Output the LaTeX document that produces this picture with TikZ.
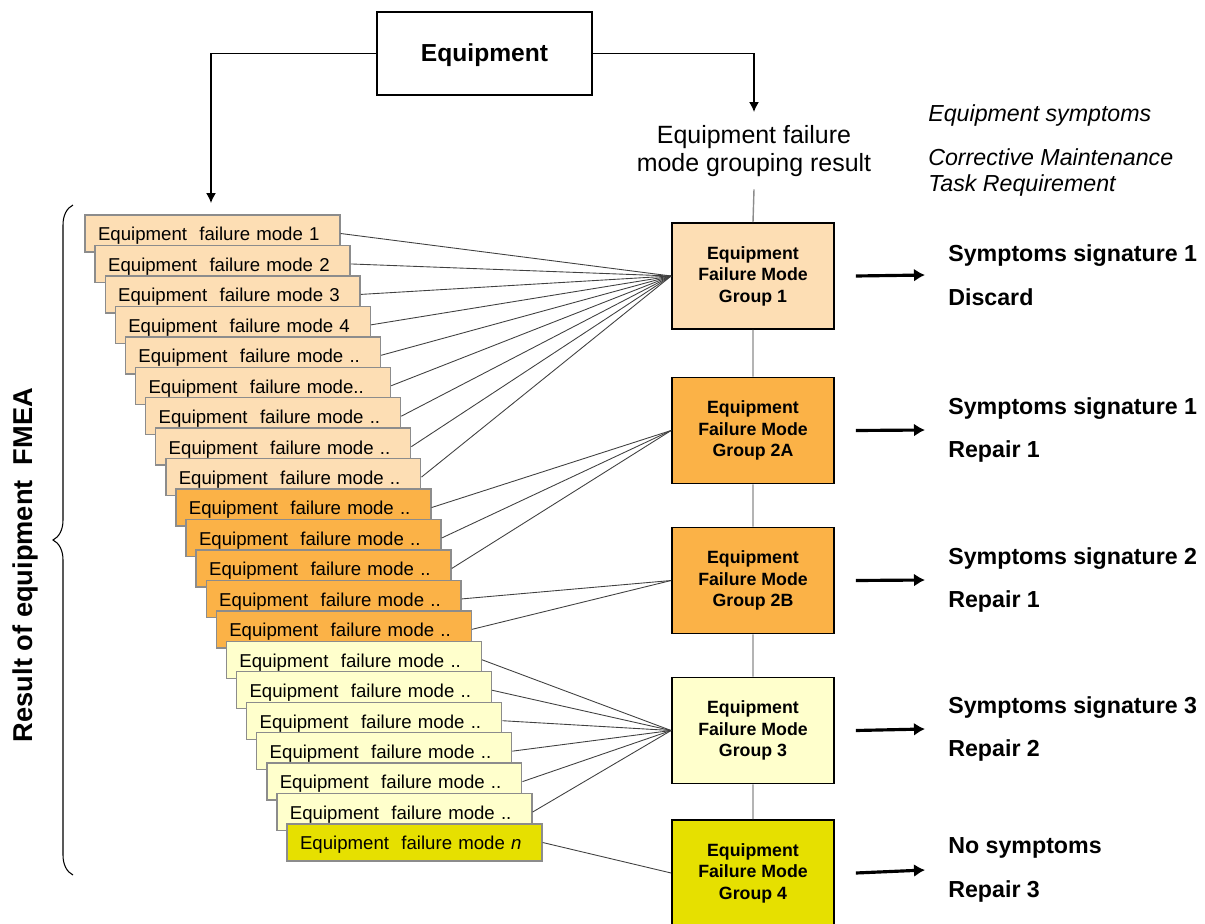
\documentclass[tikz,border=0pt]{standalone}
\usepackage{fontspec}
\setmainfont{Liberation Sans}
\usepackage{tikz}
\usetikzlibrary{arrows.meta,decorations.pathreplacing}

\definecolor{fmA}{RGB}{253,222,180}
\definecolor{fmB}{RGB}{251,178,71}
\definecolor{fmC}{RGB}{255,255,204}
\definecolor{fmD}{RGB}{230,224,0}
\definecolor{boxline}{RGB}{140,140,140}
\definecolor{linkline}{RGB}{64,64,64}

\tikzset{
  fmbox/.style={draw=boxline, line width=0.8pt, minimum height=0.74cm,
    text width=4.58cm, inner xsep=0.26cm, inner ysep=0pt, align=left,
    text height=1.05em, text depth=0.21em,
    font=\fontsize{10.6}{12}\selectfont},
  grpbox/.style={draw, line width=1pt, minimum width=3.24cm, minimum height=2.12cm,
    align=center, font=\fontsize{10.1}{12.2}\selectfont\bfseries},
  link/.style={draw=linkline, line width=0.5pt},
  outlabel/.style={anchor=west, inner sep=0pt, align=left,
    font=\fontsize{13.2}{25}\selectfont\bfseries},
  outarrow/.style={line width=1.8pt, -{Latex[length=0.22cm,width=0.26cm]}}
}

\begin{document}
\begin{tikzpicture}[x=0.02cm, y=-0.02cm]
\useasboundingbox (0,0) rectangle (1205,924);

\node[draw, line width=0.9pt, minimum width=4.3cm, minimum height=1.66cm,
  text height=1.1em, text depth=0.2em,
  font=\fontsize{14}{16}\selectfont\bfseries] (eq) at (484.5,53.5) {Equipment};
\coordinate (lft) at (211,203);
\coordinate (rgt) at (754,112);
\draw[line width=0.8pt, -{Latex[length=0.2cm,width=0.2cm]}] (eq.west) -| (lft);
\draw[line width=0.8pt, -{Latex[length=0.2cm,width=0.2cm]}] (eq.east) -| (rgt);

\node[align=center, inner sep=0pt, font=\fontsize{14.2}{15.9}\selectfont] (res) at (754,151)
  {Equipment failure\\mode grouping result};
\node[anchor=west, inner sep=0pt, font=\fontsize{13.2}{15}\selectfont\itshape] (sym) at (928,115)
  {Equipment symptoms};
\node[anchor=west, inner sep=0pt, align=left, font=\fontsize{13.2}{15.3}\selectfont\itshape] (cmt) at (928,172.5)
  {Corrective Maintenance\\Task Requirement};

\node[grpbox, fill=fmA] (g1) at (753,276) {Equipment\\Failure Mode\\Group 1};
\node[grpbox, fill=fmB] (g2a) at (753,430.5) {Equipment\\Failure Mode\\Group 2A};
\node[grpbox, fill=fmB] (g2b) at (753,580.5) {Equipment\\Failure Mode\\Group 2B};
\node[grpbox, fill=fmC] (g3) at (753,730.5) {Equipment\\Failure Mode\\Group 3};
\node[grpbox, fill=fmD] (g4) at (753,873) {Equipment\\Failure Mode\\Group 4};

\draw[boxline, line width=0.8pt] ([yshift=-0.25cm]res.south) -- (g1.north) (g1.south) -- (g2a.north)
  (g2a.south) -- (g2b.north) (g2b.south) -- (g3.north) (g3.south) -- (g4.north);

\node[outlabel] (out1) at (948,275) {Symptoms signature 1\\Discard};
\node[outlabel] (out2a) at (948,430) {Symptoms signature 1\\Repair 1};
\node[outlabel] (out2b) at (948,580) {Symptoms signature 2\\Repair 1};
\node[outlabel] (out3) at (948,729) {Symptoms signature 3\\Repair 2};
\node[outlabel] (out4) at (948,870) {No symptoms\\Repair 3};
\foreach \g in {1,2a,2b,3,4}
  \draw[outarrow] ([xshift=0.42cm]g\g.east) -- ([xshift=-0.46cm]out\g.west);

\foreach \i/\txt/\col/\grp in {1/mode 1/fmA/g1, 2/mode 2/fmA/g1, 3/mode 3/fmA/g1,
  4/mode 4/fmA/g1, 5/mode ../fmA/g1, 6/mode../fmA/g1, 7/mode ../fmA/g1,
  8/mode ../fmA/g1, 9/mode ../fmA/g1, 10/mode ../fmB/g2a, 11/mode ../fmB/g2a,
  12/mode ../fmB/g2a, 13/mode ../fmB/g2b, 14/mode ../fmB/g2b, 15/mode ../fmC/g3,
  16/mode ../fmC/g3, 17/mode ../fmC/g3, 18/mode ../fmC/g3, 19/mode ../fmC/g3,
  20/mode ../fmC/g3, 21/mode \textit{n}/fmD/g4}
{
  \node[fmbox, fill=\col] (fm\i) at ({212.5+10.1*(\i-1)},{233.5+30.45*(\i-1)}) {Equipment~ failure \txt};
  \draw[link] (fm\i.east) -- (\grp.west);
}

\coordinate (btop) at (73,205);
\coordinate (bbot) at (73,875);
\draw[line width=0.6pt, decorate, decoration={brace, amplitude=0.4cm}] (bbot) -- (btop);
\node[rotate=90, font=\fontsize{15.5}{17}\selectfont\bfseries] (fmea) at (25,565) {Result of equipment~ FMEA};
\end{tikzpicture}
\end{document}
